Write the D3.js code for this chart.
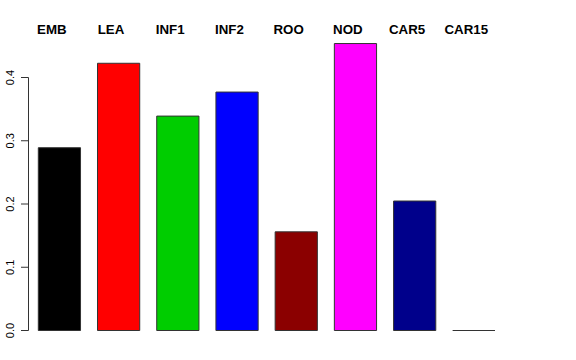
<!DOCTYPE html>
<html>
<head>
<meta charset="utf-8">
<script src="https://cdn.jsdelivr.net/npm/d3@7"></script>
<style>
  body { margin: 0; background: #fff; }
  text { font-family: "Liberation Sans", Arial, sans-serif; }
</style>
</head>
<body>
<div id="graph"></div>
<script>
const categories = ["EMB", "LEA", "INF1", "INF2", "ROO", "NOD", "CAR5", "CAR15"];
const values = [0.289, 0.4225, 0.339, 0.377, 0.156, 0.4537, 0.2047, 0];
const bar_colors = ["#000000", "#ff0000", "#00cd00", "#0000ff", "#8b0000", "#ff00ff", "#00008b", "#ffffff"];
const tick_values = [0, 0.1, 0.2, 0.3, 0.4];
const tick_labels = ["0.0", "0.1", "0.2", "0.3", "0.4"];

const width = 576, height = 360;

let svg = d3.select("#graph").append("svg")
  .attr("width", width)
  .attr("height", height);

let x = d3.scaleBand()
  .domain(categories)
  .range([38.3, 495])
  .paddingInner(0.287)
  .paddingOuter(0);

let y = d3.scaleLinear()
  .domain([0, 0.4])
  .range([330.5, 77.5]);

// bars as paths so a zero bar still shows its outline
svg.append("g")
  .selectAll("path")
  .data(categories)
  .enter()
  .append("path")
  .attr("d", (d, i) => {
    const x0 = x(d), x1 = x(d) + x.bandwidth();
    return `M${x0},${y(0)}V${y(values[i])}H${x1}V${y(0)}Z`;
  })
  .style("fill", (d, i) => bar_colors[i])
  .style("stroke", "#333")
  .style("stroke-width", 1);

// y axis, R style
let axis = svg.append("g");
axis.append("line")
  .attr("x1", 28.5).attr("x2", 28.5)
  .attr("y1", y(0)).attr("y2", y(0.4))
  .style("stroke", "#333");
axis.selectAll(".tick")
  .data(tick_values)
  .enter()
  .append("line")
  .attr("x1", 21).attr("x2", 28.5)
  .attr("y1", d => y(d)).attr("y2", d => y(d))
  .style("stroke", "#333");
axis.selectAll(".tick_label")
  .data(tick_values)
  .enter()
  .append("text")
  .attr("transform", d => `translate(13.5, ${y(d)}) rotate(-90)`)
  .style("text-anchor", "middle")
  .style("font-size", "11px")
  .text((d, i) => tick_labels[i]);

// category labels on top
svg.append("g")
  .selectAll("text")
  .data(categories)
  .enter()
  .append("text")
  .attr("x", d => x(d) + x.bandwidth() / 2 - 7.6)
  .attr("y", 34.3)
  .style("text-anchor", "middle")
  .style("font-size", "13.3px")
  .style("font-weight", "bold")
  .text(d => d);
</script>
</body>
</html>
